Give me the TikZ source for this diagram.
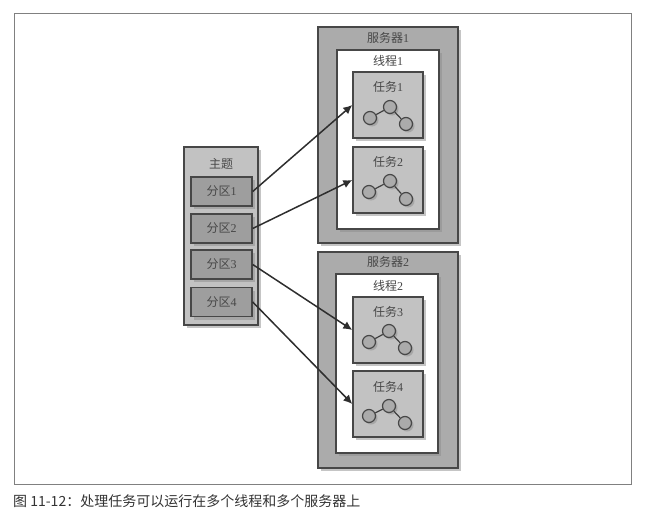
\documentclass[tikz,border=0pt]{standalone}
\usepackage{fontspec}
\setmainfont{Liberation Serif}
\setsansfont{Liberation Sans}
\newfontfamily\cjk{Noto Sans CJK SC}
\newcommand{\num}[1]{{\rmfamily #1}}
\usetikzlibrary{positioning, shadows, arrows.meta}

\begin{document}
\begin{tikzpicture}[x=1pt, y=-1pt, font=\cjk, text=black!72]
% Define block styles
\tikzset{
    box/.style={rectangle, draw=black!72, line width=1.4pt, inner sep=0pt,
        drop shadow={shadow xshift=3pt, shadow yshift=-3pt, fill=black!45, opacity=0.5}},
    server/.style={box, fill=black!33, minimum width=140pt, minimum height=216pt},
    thread/.style={box, fill=white, minimum width=102pt, minimum height=179pt},
    task/.style={box, fill=black!24, minimum width=70pt, minimum height=66pt},
    topic/.style={box, fill=black!24, minimum width=74pt, minimum height=178pt},
    part/.style={box, fill=black!38, minimum width=61pt, minimum height=29pt},
    ball/.style={circle, draw=black!72, line width=1.2pt, fill=black!33, minimum size=13pt, inner sep=0pt,
        drop shadow={shadow xshift=2pt, shadow yshift=-2pt, fill=black!45, opacity=0.5}},
    txt/.style={font=\cjk\fontsize{12}{13}\selectfont},
    link/.style={draw=black!75, line width=1.2pt},
    line/.style={draw=black!82, line width=1.5pt, -{Latex[length=9pt, width=8.5pt]}}
}
    \useasboundingbox (0,0) rectangle (648,519);
    % Frame and caption
    \node [draw=black!50, line width=0.7pt, minimum width=617pt, minimum height=471pt, inner sep=0pt] (frame) at (322.5,248.5) {};
    \node [anchor=west, inner sep=0pt, font=\cjk\fontsize{14}{15}\selectfont, text=black!80] (caption) at (13,501) {图 11-12：处理任务可以运行在多个线程和多个服务器上};
    % Place nodes
    \node [server] (server1) at (388,135) {};
    \node [txt] (server1label) at (388,38) {服务器\num{1}};
    \node [thread] (thread1) at (388,139.5) {};
    \node [txt] (thread1label) at (388,61) {线程\num{1}};
    \node [task] (task1) at (388,105) {};
    \node [txt] (task1label) at (388,87) {任务\num{1}};
    \node [task] (task2) at (388,180) {};
    \node [txt] (task2label) at (388,162) {任务\num{2}};
    \node [server] (server2) at (388,360) {};
    \node [txt] (server2label) at (388,262) {服务器\num{2}};
    \node [thread] (thread2) at (387,363.5) {};
    \node [txt] (thread2label) at (388,286) {线程\num{2}};
    \node [task] (task3) at (388,330) {};
    \node [txt] (task3label) at (388,312) {任务\num{3}};
    \node [task] (task4) at (388,404) {};
    \node [txt] (task4label) at (388,387) {任务\num{4}};
    \node [topic] (topic) at (221,236) {};
    \node [txt] (topiclabel) at (221,164) {主题};
    \node [part] (part1) at (221.5,191.5) {};
    \node [txt] (part1label) at (221.5,191.5) {分区\num{1}};
    \node [part] (part2) at (221.5,228.5) {};
    \node [txt] (part2label) at (221.5,228.5) {分区\num{2}};
    \node [part] (part3) at (221.5,264.5) {};
    \node [txt] (part3label) at (221.5,264.5) {分区\num{3}};
    \node [part] (part4) at (221.5,302) {};
    \node [txt] (part4label) at (221.5,302) {分区\num{4}};
    % Small graphs inside the tasks
    \node [ball] (a1) at (370,118) {};
    \node [ball] (b1) at (390,107) {};
    \node [ball] (c1) at (406,124) {};
    \node [ball] (a2) at (369,192) {};
    \node [ball] (b2) at (390,181) {};
    \node [ball] (c2) at (406,199) {};
    \node [ball] (a3) at (369,342) {};
    \node [ball] (b3) at (389,331) {};
    \node [ball] (c3) at (405,348) {};
    \node [ball] (a4) at (369,416) {};
    \node [ball] (b4) at (389,406) {};
    \node [ball] (c4) at (405,423) {};
    \foreach \i in {1,2,3,4} {
        \path [link] (a\i) -- (b\i);
        \path [link] (b\i) -- (c\i);
    }
    % Connectors
    \path [line] (part1.east) -- (task1.west);
    \path [line] (part2.east) -- (task2.west);
    \path [line] (part3.east) -- (task3.west);
    \path [line] (part4.east) -- (task4.west);
\end{tikzpicture}
\end{document}
